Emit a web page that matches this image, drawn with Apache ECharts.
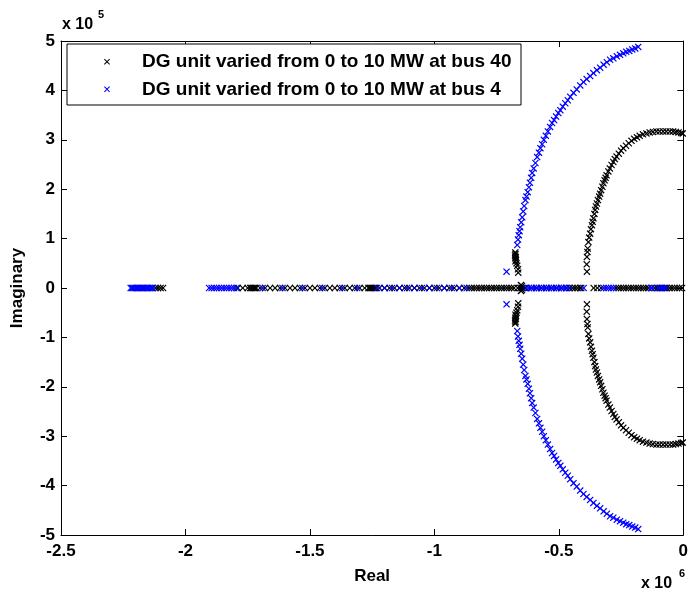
<!DOCTYPE html>
<html>
<head>
<meta charset="utf-8">
<script src="https://cdn.jsdelivr.net/npm/echarts@6/dist/echarts.min.js"></script>
<style>
html,body{margin:0;padding:0;background:#fff;}
#chart{width:691px;height:597px;}
</style>
</head>
<body>
<div id="chart"></div>
<script>
// Values: real part in units of 1e6, imaginary part in units of 1e5
const legendNames = ['DG unit varied from 0 to 10 MW at bus 40', 'DG unit varied from 0 to 10 MW at bus 4'];
const xTicks = [-2.5, -2, -1.5, -1, -0.5, 0];
const yTicks = [-5, -4, -3, -2, -1, 0, 1, 2, 3, 4, 5];

// Upper halves of complex-conjugate loci [real, imag]
const bus40Arc = [
  [-0.387,0.33],[-0.388,0.48],[-0.387,0.63],[-0.385,0.73],[-0.384,0.80],[-0.381,0.93],[-0.378,1.02],
  [-0.374,1.10],[-0.371,1.19],[-0.367,1.27],[-0.364,1.34],[-0.361,1.41],[-0.357,1.50],[-0.354,1.58],
  [-0.351,1.65],[-0.347,1.71],[-0.343,1.78],[-0.338,1.85],[-0.334,1.91],[-0.330,1.98],[-0.325,2.05],
  [-0.321,2.12],[-0.316,2.18],[-0.312,2.23],[-0.308,2.28],[-0.301,2.36],[-0.295,2.42],[-0.288,2.49],
  [-0.281,2.55],[-0.275,2.61],[-0.268,2.66],[-0.259,2.72],[-0.250,2.78],[-0.241,2.83],[-0.230,2.88],
  [-0.219,2.93],[-0.208,2.98],[-0.197,3.02],[-0.186,3.05],[-0.175,3.08],[-0.162,3.11],[-0.148,3.13],
  [-0.135,3.15],[-0.122,3.16],[-0.108,3.17],[-0.095,3.17],[-0.081,3.17],[-0.068,3.17],[-0.054,3.17],
  [-0.041,3.17],[-0.030,3.16],[-0.019,3.15],[-0.008,3.14],[-0.002,3.13]
];
const bus40NearAxis = [
  [-0.675,0.72],[-0.674,0.69],[-0.676,0.66],[-0.673,0.63],[-0.675,0.60],[-0.672,0.57],[-0.674,0.54],
  [-0.670,0.50],[-0.667,0.45],[-0.664,0.38],[-0.663,0.31],[-0.652,0.06],[-0.648,0.04]
];
const bus40Real = [
  -2.12,-2.11,-2.10,-2.09,
  -1.79,-1.77,-1.75,-1.74,-1.735,-1.73,-1.725,-1.72,-1.715,-1.70,-1.68,-1.66,-1.64,-1.62,-1.60,-1.58,
  -1.56,-1.54,-1.52,-1.50,-1.48,-1.46,-1.44,-1.42,-1.40,-1.38,-1.36,-1.34,-1.32,-1.30,-1.28,-1.265,
  -1.26,-1.255,-1.25,-1.245,-1.24,-1.235,-1.22,-1.20,-1.18,-1.16,-1.14,-1.12,-1.10,-1.08,-1.06,-1.04,
  -1.02,-1.00,-0.98,-0.96,-0.94,-0.92,-0.90,-0.88,-0.86,-0.85,-0.84,-0.83,-0.82,-0.81,-0.80,-0.79,
  -0.78,-0.77,-0.76,-0.75,-0.74,-0.73,-0.72,-0.71,-0.70,-0.69,-0.68,-0.665,-0.655,-0.65,-0.645,-0.635,
  -0.61,-0.59,-0.57,-0.55,-0.53,-0.51,-0.49,-0.47,-0.455,-0.445,-0.435,-0.425,-0.415,-0.41,
  -0.36,-0.345,-0.33,
  -0.27,-0.26,-0.25,-0.24,-0.23,-0.22,-0.21,-0.20,-0.19,-0.18,-0.17,-0.16,-0.15,-0.14,
  -0.115,-0.105,-0.095,-0.085,-0.075,-0.065,-0.055,-0.045,-0.035,-0.025,-0.015,-0.005
];

const bus4Arc = [
  [-0.667,0.87],[-0.664,0.98],[-0.661,1.07],[-0.658,1.15],[-0.655,1.23],[-0.651,1.33],[-0.647,1.43],
  [-0.643,1.55],[-0.639,1.66],[-0.634,1.78],[-0.630,1.85],[-0.625,1.94],[-0.620,2.04],[-0.616,2.13],
  [-0.611,2.23],[-0.607,2.33],[-0.601,2.42],[-0.594,2.53],[-0.587,2.65],[-0.580,2.74],[-0.574,2.83],
  [-0.567,2.91],[-0.560,3.00],[-0.552,3.08],[-0.544,3.17],[-0.535,3.26],[-0.527,3.34],[-0.519,3.40],
  [-0.511,3.47],[-0.502,3.54],[-0.494,3.60],[-0.484,3.67],[-0.474,3.74],[-0.464,3.80],[-0.454,3.87],
  [-0.441,3.95],[-0.428,4.02],[-0.414,4.10],[-0.401,4.17],[-0.388,4.23],[-0.374,4.29],[-0.361,4.35],
  [-0.347,4.41],[-0.334,4.46],[-0.320,4.52],[-0.307,4.57],[-0.294,4.62],[-0.281,4.65],[-0.267,4.69],
  [-0.254,4.72],[-0.241,4.75],[-0.229,4.78],[-0.217,4.80],[-0.205,4.83],[-0.193,4.85],[-0.181,4.88]
];
const bus4NearAxis = [[-0.710,0.33]];
const bus4Real = [
  -2.22,-2.215,-2.21,-2.205,-2.20,-2.195,-2.19,-2.185,-2.18,-2.175,-2.17,-2.165,-2.16,-2.155,-2.15,-2.145,-2.14,-2.135,-2.13,
  -1.905,-1.895,-1.885,-1.875,-1.865,-1.855,-1.845,-1.835,-1.825,-1.815,-1.805,-1.795,
  -1.69,-1.61,-1.53,-1.45,-1.37,-1.31,
  -1.23,-1.20,-1.17,-1.14,-1.11,-1.08,-1.05,-1.02,-0.99,-0.96,-0.93,-0.90,-0.87,
  -0.63,-0.62,-0.61,-0.60,-0.59,-0.58,-0.57,-0.56,-0.55,-0.54,-0.53,-0.52,-0.51,-0.50,-0.49,-0.48,
  -0.47,-0.46,-0.40,
  -0.32,-0.31,-0.30,-0.29,-0.28,-0.13,-0.125,-0.10,-0.09,-0.08,-0.07
];

function withConjugates(pts) {
  return pts.concat(pts.map(p => [p[0], -p[1]]));
}
const bus40Data = withConjugates(bus40Arc).concat(withConjugates(bus40NearAxis), bus40Real.map(r => [r, 0]));
const bus4Data = withConjugates(bus4Arc).concat(withConjugates(bus4NearAxis), bus4Real.map(r => [r, 0]));

const XMARK = 'path://M0,1.2L1.2,0L5,3.8L8.8,0L10,1.2L6.2,5L10,8.8L8.8,10L5,6.2L1.2,10L0,8.8L3.8,5Z';
const FONT = 'Liberation Sans, Arial, sans-serif';

const chart = echarts.init(document.getElementById('chart'), null, {renderer: 'canvas'});
const axisCommon = {
  type: 'value',
  axisLine: {show: true, onZero: false, lineStyle: {color: '#000', width: 1}},
  axisTick: {show: true, inside: true, length: 6, lineStyle: {color: '#000', width: 1}},
  splitLine: {show: false}
};
chart.setOption({
  animation: false,
  backgroundColor: '#fff',
  grid: {left: 61, right: 4, top: 41, bottom: 62, containLabel: false},
  legend: {
    orient: 'vertical',
    left: 67, top: 44,
    data: legendNames.map(n => ({name: n, icon: XMARK})),
    itemWidth: 60, itemHeight: 6, itemGap: 8.6,
    padding: [8.2, 9.5, 6.2, 37],
    borderColor: '#000', borderWidth: 1, backgroundColor: '#fff',
    selectedMode: false,
    textStyle: {fontFamily: FONT, fontWeight: 'bold', fontSize: 19, color: '#000'}
  },
  xAxis: [
    Object.assign({}, axisCommon, {
      position: 'bottom', min: xTicks[0], max: xTicks[xTicks.length - 1], interval: 0.5,
      name: 'Real', nameLocation: 'middle', nameGap: 33,
      nameTextStyle: {fontFamily: FONT, fontWeight: 'bold', fontSize: 17, color: '#000'},
      axisLabel: {margin: 8, fontFamily: FONT, fontWeight: 'bold', fontSize: 17, color: '#000',
        showMinLabel: true, showMaxLabel: true}
    }),
    Object.assign({}, axisCommon, {
      position: 'top', min: xTicks[0], max: xTicks[xTicks.length - 1], interval: 0.5,
      axisLabel: {show: false}
    })
  ],
  yAxis: [
    Object.assign({}, axisCommon, {
      position: 'left', min: yTicks[0], max: yTicks[yTicks.length - 1], interval: 1,
      name: 'Imaginary', nameLocation: 'middle', nameGap: 35,
      nameTextStyle: {fontFamily: FONT, fontWeight: 'bold', fontSize: 17, color: '#000'},
      axisLabel: {margin: 6, fontFamily: FONT, fontWeight: 'bold', fontSize: 17, color: '#000',
        showMinLabel: true, showMaxLabel: true}
    }),
    Object.assign({}, axisCommon, {
      position: 'right', min: yTicks[0], max: yTicks[yTicks.length - 1], interval: 1,
      axisLabel: {show: false}
    })
  ],
  series: [
    {
      name: legendNames[0], type: 'scatter', data: bus40Data,
      symbol: XMARK, symbolSize: 7,
      itemStyle: {color: '#000', opacity: 1},
      emphasis: {disabled: true}, silent: true
    },
    {
      name: legendNames[1], type: 'scatter', data: bus4Data,
      symbol: XMARK, symbolSize: 7,
      itemStyle: {color: '#0000ff', opacity: 1},
      emphasis: {disabled: true}, silent: true
    }
  ],
  graphic: [
    {type: 'text', left: 62, top: 17, style: {text: 'x 10', fontFamily: FONT, fontWeight: 'bold', fontSize: 16, fill: '#000'}},
    {type: 'text', left: 98, top: 9, style: {text: '5', fontFamily: FONT, fontWeight: 'bold', fontSize: 11, fill: '#000'}},
    {type: 'text', left: 641, top: 576, style: {text: 'x 10', fontFamily: FONT, fontWeight: 'bold', fontSize: 16, fill: '#000'}},
    {type: 'text', left: 679, top: 568, style: {text: '6', fontFamily: FONT, fontWeight: 'bold', fontSize: 11, fill: '#000'}}
  ]
});
</script>
</body>
</html>
